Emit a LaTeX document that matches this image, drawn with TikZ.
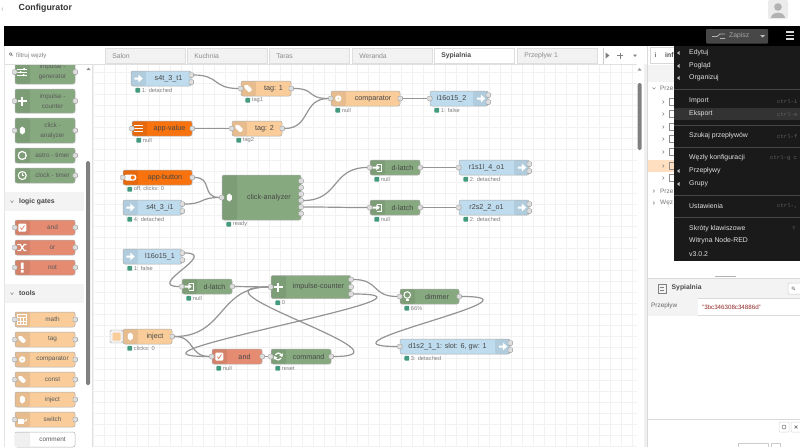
\documentclass[tikz,border=0pt]{standalone}
\usepackage{fontspec}
\setmainfont{Liberation Sans}
\setmonofont{Liberation Mono}
\usetikzlibrary{positioning}
\definecolor{blueflow}{HTML}{BEDCEE}
\definecolor{orangeflow}{HTML}{F9CC9A}
\definecolor{appflow}{HTML}{F8720E}
\definecolor{greenflow}{HTML}{87A980}
\definecolor{redflow}{HTML}{E58B72}
\definecolor{greyline}{HTML}{999999}
\definecolor{paneltint}{HTML}{F3F3F3}
\definecolor{menuback}{HTML}{1A1A1A}
\definecolor{statusgreen}{HTML}{439A7E}
\newcommand{\fs}[1]{\fontsize{#1}{#1}\selectfont}
\tikzset{
    flowbox/.style={draw=greyline!80, line width=.5pt, rounded corners=2pt, inner sep=0pt},
    flowtext/.style={font=\fs{7.2}, text=black!72, inner sep=0pt, align=center},
    flowport/.style={draw=greyline, fill=black!13, line width=.4pt, rounded corners=1pt, minimum size=4.6pt, inner sep=0pt},
    statusdot/.style={fill=statusgreen, rounded corners=.6pt, minimum size=4.6pt, inner sep=0pt},
    statustext/.style={font=\fs{5.7}, text=black!50, inner sep=0pt},
    wire/.style={draw=black!42, line width=1.2pt},
    gridline/.style={draw=black!5, line width=.35pt},
    tabbox/.style={draw=black!13, fill=black!5, line width=.5pt, minimum width=80pt, minimum height=15.5pt, text width=66pt, inner xsep=7pt, inner ysep=0pt, font=\fs{6.8}, text=black!45, anchor=west},
    palettehead/.style={font=\bfseries\fs{6.8}, text=black!72, inner sep=0pt, anchor=west},
    menutext/.style={font=\fs{6.9}, text=white!88!black, inner sep=0pt, anchor=west},
    menukey/.style={font=\ttfamily\fs{5.6}, text=black!62, inner sep=0pt, anchor=west},
    treetext/.style={font=\fs{6.4}, text=black!55, inner sep=0pt, anchor=west},
    arrowicon/.pic={\fill[white] (-4,-1) -- (0,-1) -- (0,-4) -- (4.5,0) -- (0,4) -- (0,1) -- (-4,1) -- cycle;},
    tagicon/.pic={\fill[white, rounded corners=.8pt] (-4,-3.5) -- (-.5,-3.5) -- (4,1) -- (1,4) -- (-4,-.8) -- cycle;},
    ringicon/.pic={\fill[white] (0,0) circle (3.2); \fill[orangeflow] (0,0) circle (1);},
    valueicon/.pic={\foreach \j in {-3,0,3}{\draw[white, line width=1.5pt] (-5,\j) -- (4,\j);}},
    toggleicon/.pic={\fill[white, rounded corners=2.5pt] (-6,-3) rectangle (6,3); \fill[appflow] (2.5,0) circle (2);},
    clickicon/.pic={\fill[white] (0,-4) -- (2.5,-2) -- (2.5,2) -- (0,4) -- (-2.5,2) -- (-2.5,-2) -- cycle;},
    latchicon/.pic={\draw[white, line width=1pt] (0,-3.5) -- (4,-3.5) -- (4,3.5) -- (0,3.5); \fill[white] (-5,-1) -- (-1,-1) -- (-1,-3) -- (2.5,0) -- (-1,3) -- (-1,1) -- (-5,1) -- cycle;},
    plusicon/.pic={\draw[white, line width=2pt] (-4.5,0) -- (4.5,0) (0,-4.5) -- (0,4.5);},
    checkicon/.pic={\fill[white, rounded corners=1pt] (-4,-4) rectangle (4,4); \draw[redflow, line width=.8pt] (-2,0) -- (-.5,2) -- (2.2,-2);},
    refreshicon/.pic={\draw[white, line width=1.2pt] (-3.5,0) arc (180:30:3.5) (3.5,0) arc (0:-150:3.5); \fill[white] (4.6,-3.2) -- (4.4,.2) -- (1,-.8) -- cycle; \fill[white] (-4.6,3.2) -- (-4.4,-.2) -- (-1,.8) -- cycle;},
    bulbicon/.pic={\draw[white, line width=1pt] (0,-1.5) circle (3.3); \fill[white] (-1.5,2) rectangle (1.5,4.5);},
    slidericon/.pic={\foreach \j in {-3,0,3}{\draw[white, line width=.9pt] (-5,\j) -- (5,\j);} \fill[white] (1,-4) rectangle (2.5,-2) (-2.5,-1) rectangle (-1,1) (.5,2) rectangle (2,4);},
    astroicon/.pic={\draw[white, line width=1.2pt] (0,0) circle (4);},
    clockicon/.pic={\draw[white, line width=1.1pt] (0,0) circle (4); \draw[white, line width=.8pt] (0,-2.5) -- (0,0) -- (2,0);},
    shuffleicon/.pic={\draw[white, line width=1.2pt] (-5,-3) -- (-2,-3) -- (2,3) -- (4,3) (-5,3) -- (-2,3) -- (2,-3) -- (4,-3);},
    notaicon/.pic={\fill[white] (-1.3,-5) rectangle (1.3,1.5) (-1.3,2.7) rectangle (1.3,5);},
    mathicon/.pic={\draw[white, line width=.7pt] (-4.5,-5) rectangle (4.5,5) (-4.5,-2) -- (4.5,-2) (-4.5,1.5) -- (4.5,1.5) (-1.5,-2) -- (-1.5,5) (1.5,-2) -- (1.5,5);},
    lockicon/.pic={\fill[white] (-4.5,-.5) rectangle (2,4.5); \draw[white, line width=1pt] (0,-.5) arc (180:0:2.2);},
    blankicon/.pic={\fill[black!6] (-7,-7) rectangle (7,7);},
    treerow/.pic={\draw[black!45, line width=.4pt] (-3,-3.5) rectangle (3,3.5);}
}
\newcommand{\flownode}[8]{
    \node[flowbox, fill=#6, minimum width=#4pt, minimum height=#5pt, path picture={\fill[black, opacity=.07] (path picture bounding box.north west) rectangle ([xshift=15pt]path picture bounding box.south west);}] (#1) at (#2,#3) {};
    \pic at ([xshift=7.5pt]#1.west) {#8};
    \node[flowtext] (#1-label) at ([xshift=7.5pt]#1.center) {#7};
}
\newcommand{\outnode}[8]{
    \node[flowbox, fill=#6, minimum width=#4pt, minimum height=#5pt, path picture={\fill[black, opacity=.07] (path picture bounding box.north east) rectangle ([xshift=-15pt]path picture bounding box.south east);}] (#1) at (#2,#3) {};
    \pic at ([xshift=-7.5pt]#1.east) {#8};
    \node[flowtext] (#1-label) at ([xshift=-7.5pt]#1.center) {#7};
}
\newcommand{\inport}[1]{\node[flowport] (#1-in) at (#1.west) {};}
\newcommand{\outport}[1]{\node[flowport] (#1-out) at (#1.east) {};}
\newcommand{\twoports}[1]{
    \node[flowport] (#1-out1) at ([yshift=3.5pt]#1.east) {};
    \node[flowport] (#1-out2) at ([yshift=-3.5pt]#1.east) {};
}
\newcommand{\status}[2]{
    \node[statusdot] (#1-dot) at ([shift={(7,4)}]#1.south west) {};
    \node[statustext, right=1.5pt of #1-dot] (#1-status) {#2};
}
\begin{document}
\begin{tikzpicture}[x=1pt,y=-1pt]
    \useasboundingbox (0,0) rectangle (800,447);
    \fill[white] (0,0) rectangle (800,447);

    \foreach \i in {93,104,...,643}
    {
        \draw[gridline] (\i,64) -- (\i,447);
    }
    \foreach \i in {72,83,...,447}
    {
        \draw[gridline] (93,\i) -- (643,\i);
    }

    \flownode{t1}{161}{78.5}{60}{15}{blueflow}{s4t\_3\_t1}{arrowicon}
    \twoports{t1}
    \status{t1}{1: detached}
    \flownode{tagone}{266}{88.5}{50}{15}{orangeflow}{tag: 1}{tagicon}
    \inport{tagone} \outport{tagone}
    \status{tagone}{tag1}
    \flownode{compare}{365.5}{98.5}{69}{15}{orangeflow}{comparator}{ringicon}
    \inport{compare} \outport{compare}
    \status{compare}{null}
    \outnode{otwo}{459}{98.5}{58}{15}{blueflow}{i16o15\_2}{arrowicon}
    \inport{otwo} \twoports{otwo}
    \status{otwo}{1: false}
    \flownode{appvalue}{162}{128.5}{60}{15}{appflow}{app-value}{valueicon}
    \inport{appvalue} \outport{appvalue}
    \status{appvalue}{null}
    \flownode{tagtwo}{257}{128.5}{50}{15}{orangeflow}{tag: 2}{tagicon}
    \inport{tagtwo} \outport{tagtwo}
    \status{tagtwo}{tag2}
    \flownode{appbutton}{157.5}{177.5}{69}{15}{appflow}{app-button}{toggleicon}
    \inport{appbutton} \outport{appbutton}
    \status{appbutton}{off, clicks: 0}
    \flownode{ione}{152.5}{207.5}{59}{15}{blueflow}{s4t\_3\_i1}{arrowicon}
    \twoports{ione}
    \status{ione}{4: detached}
    \flownode{click}{261.5}{197.5}{79}{45}{greenflow}{click-analyzer}{clickicon}
    \inport{click}
    \foreach \j/\y in {1/181,2/187.5,3/194,4/200.5,5/207,6/213.5}
    {
        \node[flowport] (click-out\j) at (301,\y) {};
    }
    \status{click}{ready}
    \flownode{latcha}{395}{167.5}{50}{15}{greenflow}{d-latch}{latchicon}
    \inport{latcha} \outport{latcha}
    \status{latcha}{null}
    \flownode{latchb}{395}{207.5}{50}{15}{greenflow}{d-latch}{latchicon}
    \inport{latchb} \outport{latchb}
    \status{latchb}{null}
    \outnode{oone}{494}{167.5}{70}{15}{blueflow}{r1s1l\_4\_o1}{arrowicon}
    \inport{oone} \twoports{oone}
    \status{oone}{2: detached}
    \outnode{otwob}{494}{207.5}{70}{15}{blueflow}{r2s2\_2\_o1}{arrowicon}
    \inport{otwob} \twoports{otwob}
    \status{otwob}{2: detached}
    \flownode{lone}{152.5}{256.5}{59}{15}{blueflow}{l16o15\_1}{arrowicon}
    \twoports{lone}
    \status{lone}{1: false}
    \flownode{latchc}{207}{286.5}{50}{15}{greenflow}{d-latch}{latchicon}
    \inport{latchc} \outport{latchc}
    \status{latchc}{null}
    \flownode{counter}{311}{287}{80}{23}{greenflow}{impulse-counter}{plusicon}
    \inport{counter}
    \foreach \j/\y in {1/279.5,2/287,3/294}
    {
        \node[flowport] (counter-out\j) at (351,\y) {};
    }
    \status{counter}{0}
    \flownode{inject}{147.5}{336.5}{49}{15}{orangeflow}{inject}{clickicon}
    \outport{inject}
    \node[draw=black!35, fill=black!5, rounded corners=1.5pt, minimum width=13pt, minimum height=13pt, inner sep=0pt] (injectbutton) at (116.5,336.5) {};
    \node[fill=orangeflow, rounded corners=1pt, minimum size=8pt, inner sep=0pt] (injectface) at (injectbutton) {};
    \status{inject}{clicks: 0}
    \flownode{gate}{237}{356.5}{50}{15}{redflow}{and}{checkicon}
    \inport{gate} \outport{gate}
    \status{gate}{null}
    \flownode{command}{301}{356.5}{60}{15}{greenflow}{command}{refreshicon}
    \inport{command} \outport{command}
    \status{command}{reset}
    \flownode{dimmer}{429.5}{296.5}{59}{15}{greenflow}{dimmer}{bulbicon}
    \inport{dimmer} \outport{dimmer}
    \status{dimmer}{66\%}
    \outnode{done}{455}{346.5}{110}{15}{blueflow}{d1s2\_1\_1: slot: 6, gw: 1}{arrowicon}
    \inport{done} \twoports{done}
    \status{done}{3: detached}

    \foreach \a/\b/\c in {t1-out1/tagone-in/26,tagone-out/compare-in/22,tagtwo-out/compare-in/26,compare-out/otwo-in/14,appvalue-out/tagtwo-in/18,appbutton-out/click-in/18,ione-out1/click-in/20,click-out4/latcha-in/36,click-out5/latchb-in/30,latcha-out/oone-in/18,latchb-out/otwob-in/18,lone-out1/latchc-in/35,latchc-out/counter-in/16,inject-out/counter-in/50,inject-out/gate-in/20,gate-out/command-in/4,counter-out1/dimmer-in/26,counter-out3/gate-in/120,command-out/counter-in/90,dimmer-out/done-in/94}
    {
        \draw[wire] (\a.east) .. controls +(\c,0) and +(-\c,0) .. (\b.west);
    }

    \fill[white] (0,26) rectangle (92.5,447);
    \draw[black!12, line width=.5pt] (92.5,46) -- (92.5,447);
    \draw[black!10, line width=.5pt] (4.5,46) -- (4.5,447);
    \fill[paneltint] (4.5,192) rectangle (84,211);
    \fill[paneltint] (4.5,284) rectangle (84,303);
    \node[palettehead] (logichead) at (19,202) {logic gates};
    \node[palettehead] (toolshead) at (19,293.5) {tools};
    \draw[black!50, line width=.5pt] (10.5,200.5) -- (12,202.5) -- (13.5,200.5);
    \draw[black!50, line width=.5pt] (10.5,292.5) -- (12,294.5) -- (13.5,292.5);
    \begin{scope}[flowtext/.append style={font=\fontsize{6.4}{10}\selectfont, text=black!65}]
        \flownode{palgen}{45}{72}{60}{24}{greenflow}{impulse -\\generator}{slidericon}
        \inport{palgen} \outport{palgen}
        \flownode{palcount}{45}{101}{60}{24}{greenflow}{impulse -\\counter}{plusicon}
        \inport{palcount} \outport{palcount}
        \flownode{palclick}{45}{130.5}{60}{25}{greenflow}{click -\\analyzer}{clickicon}
        \inport{palclick} \outport{palclick}
        \flownode{palastro}{45}{155.5}{60}{15}{greenflow}{astro - timer}{astroicon}
        \outport{palastro}
        \flownode{palclock}{45}{175.5}{60}{15}{greenflow}{clock - timer}{clockicon}
        \outport{palclock}
        \flownode{paland}{45}{227.5}{60}{15}{redflow}{and}{checkicon}
        \inport{paland} \outport{paland}
        \flownode{palor}{45}{247.5}{60}{15}{redflow}{or}{shuffleicon}
        \inport{palor} \outport{palor}
        \flownode{palnot}{45}{267.5}{60}{15}{redflow}{not}{notaicon}
        \inport{palnot} \outport{palnot}
        \flownode{palmath}{45}{319.5}{60}{15}{orangeflow}{math}{mathicon}
        \inport{palmath} \outport{palmath}
        \flownode{paltag}{45}{339.5}{60}{15}{orangeflow}{tag}{tagicon}
        \inport{paltag} \outport{paltag}
        \flownode{palcompare}{45}{359.5}{60}{15}{orangeflow}{comparator}{ringicon}
        \inport{palcompare} \outport{palcompare}
        \flownode{palconst}{45}{379.5}{60}{15}{orangeflow}{const}{tagicon}
        \inport{palconst} \outport{palconst}
        \flownode{palinject}{45}{399.5}{60}{15}{orangeflow}{inject}{clickicon}
        \outport{palinject}
        \flownode{palswitch}{45}{419.5}{60}{15}{orangeflow}{switch}{lockicon}
        \inport{palswitch} \outport{palswitch}
        \flownode{palcomment}{45}{439.5}{60}{15}{white}{comment}{blankicon}
    \end{scope}
    \fill[black!50, rounded corners=1.5pt] (86,161) rectangle (90,385);
    \fill[black!45] (86.5,70) -- (88.5,67.5) -- (90.5,70) -- cycle;

    \fill[white] (0,0) rectangle (800,26);
    \fill[white] (4.5,46) rectangle (92.5,64);
    \draw[black!12, line width=.5pt] (4.5,64) -- (92.5,64);
    \fill[white] (93,47) rectangle (643,64);
    \draw[black!12, line width=.5pt] (93,64) -- (643,64);
    \fill[black] (4,26) rectangle (800,46);
    \node[font=\bfseries\fs{8.8}, text=black!80, inner sep=0pt, anchor=west] (title) at (18.5,8.7) {Configurator};
    \draw[black!25, line width=.5pt] (3,7.5) -- (1.8,9) -- (3,10.5);
    \fill[black!8, rounded corners=2pt] (768,0) rectangle (788,19);
    \fill[black!30] (778,7) circle (3.8);
    \fill[black!30] (771,18) .. controls (771,11) and (785,11) .. (785,18) -- cycle;
    \draw[black!55, line width=.5pt] (10.7,54) circle (1.4) (11.7,55) -- (12.8,56.2);
    \node[font=\fs{6.2}, text=black!50, inner sep=0pt, anchor=west] (filter) at (16,55.5) {filtruj węzły};

    \foreach \t/\x in {Salon/105,Kuchnia/187,Taras/269,Weranda/352}
    {
        \node[tabbox] (tab\x) at (\x,55.7) {\t};
    }
    \node[tabbox, fill=white, font=\bfseries\fs{6.8}, text=black!70] (tabactive) at (434,55.7) {Sypialnia};
    \node[tabbox, minimum width=78pt] (tablast) at (517,55.7) {Przepływ 1};
    \draw[black!20, line width=.5pt] (603,48) -- (603,64);
    \fill[black!50] (605.5,52.5) -- (609.5,55.5) -- (605.5,58.5) -- cycle;
    \draw[black!50, line width=.9pt] (617,55.5) -- (623,55.5) (620,52.5) -- (620,58.5);
    \fill[black!50] (633,54.5) -- (637,54.5) -- (635,57) -- cycle;
    \fill[black!6] (640,64) rectangle (648,447);
    \fill[white] (637,64) rectangle (644,447);
    \fill[black!50, rounded corners=1.5pt] (637.5,83) rectangle (641.5,150);
    \fill[black!40] (637.5,70.5) -- (639.5,68) -- (641.5,70.5) -- cycle;

    \fill[white] (648,46) rectangle (800,447);
    \draw[black!15, line width=.5pt] (647.5,46) -- (647.5,447);
    \node[flowbox, draw=black!15, fill=white, rounded corners=0pt, minimum width=26pt, minimum height=16pt] (infotab) at (663,55.5) {};
    \node[font=\bfseries\fs{6.4}, text=black!60, inner sep=0pt] (infoi) at (655.5,55.5) {i};
    \node[font=\bfseries\fs{6.8}, text=black!70, inner sep=0pt, anchor=west] (infotext) at (665,55.5) {inf};
    \fill[paneltint] (648,65) rectangle (800,82);
    \fill[orange!25] (648,160) rectangle (800,172);
    \foreach \y in {102,114,127,139,152,166,178}
    {
        \draw[black!45, line width=.4pt] (662.5,\y-1.5) -- (664,\y) -- (662.5,\y+1.5);
        \pic at (672,\y) {treerow};
    }
    \draw[black!45, line width=.4pt] (652.5,87.5) -- (654,89) -- (655.5,87.5);
    \draw[black!45, line width=.4pt] (653,189.5) -- (654.5,191) -- (653,192.5);
    \draw[black!45, line width=.4pt] (653,201.5) -- (654.5,203) -- (653,204.5);
    \node[treetext] (treea) at (660,88.5) {Prze};
    \node[treetext] (treeb) at (660,191) {Prze};
    \node[treetext] (treec) at (660,203) {Węz};

    \fill[paneltint] (648,278) rectangle (800,298);
    \draw[black!30, line width=.8pt] (715,276) -- (736,276);
    \draw[black!15, line width=.5pt] (648,278) -- (800,278) (648,298) -- (800,298) (648,315.5) -- (800,315.5) (648,419) -- (800,419);
    \fill[paneltint] (648,298) rectangle (698,315.5);
    \draw[black!50, line width=.5pt] (658,284) rectangle (666,293) (660,287) -- (664,287) (660,290) -- (664,290);
    \node[font=\bfseries\fs{6.8}, text=black!70, inner sep=0pt, anchor=west] (infohead) at (671.5,288) {Sypialnia};
    \node[font=\fs{6.4}, text=black!60, inner sep=0pt, anchor=west] (infokey) at (651,306) {Przepływ};
    \node[font=\fs{6.2}, text=red!50!black!85, inner sep=0pt, anchor=west] (infovalue) at (702,307) {"3bc346308c34886d"};
    \draw[black!20, fill=white, line width=.5pt, rounded corners=1pt] (788,283) rectangle (803,294);
    \draw[black!55, line width=.4pt] (793,288) circle (1.3) (794,289) -- (795,290);
    \draw[black!15, line width=.5pt, rounded corners=1pt] (779,422) rectangle (789,432) (791,422) rectangle (801,432);
    \draw[black!60, line width=.5pt] (784,427) circle (2);
    \draw[black!60, line width=.6pt] (794.5,425.5) -- (797.5,428.5) (797.5,425.5) -- (794.5,428.5);
    \draw[black!20, line width=.5pt] (738,447) -- (738,443) -- (768,443) -- (768,447) (771,447) -- (771,443) -- (780,443) -- (780,447);

    \fill[black!72, rounded corners=1pt] (706,29) rectangle (768,43.5);
    \node[font=\fs{6.8}, text=black!35, inner sep=0pt, anchor=west] (deploy) at (729,36) {Zapisz};
    \draw[black!30, line width=.8pt] (712,36.5) -- (717,36.5) (720,34) -- (725,34) (720,38.5) -- (725,38.5) (717,36.5) -- (720,34);
    \fill[black!25] (760,35) -- (765,35) -- (762.5,37.5) -- cycle;
    \foreach \y in {32,35.5,39}
    {
        \draw[white!85!black, line width=1.5pt] (786,\y) -- (794,\y);
    }

    \fill[menuback] (674,46) rectangle (800,261);
    \fill[black!80] (674,108) rectangle (800,120);
    \foreach \y in {89,125,147,195,217}
    {
        \draw[black!72, line width=.6pt] (674,\y) -- (800,\y);
    }
    \foreach \y in {53,66,78,171,184}
    {
        \fill[white!75!black] (677,\y) -- (679.5,\y-2) -- (679.5,\y+2) -- cycle;
    }
    \foreach \t/\y in {Edytuj/53,Pogląd/66,Organizuj/78,Import/101,Eksport/114,Szukaj przepływów/136,Węzły konfiguracji/158,Przepływy/171,Grupy/184,Ustawienia/206,Skróty klawiszowe/229,Witryna Node-RED/241,v3.0.2/254}
    {
        \node[menutext] (menu\y) at (689,\y) {\t};
    }
    \foreach \t/\x/\y in {ctrl-i/777/101,ctrl-e/777/114,ctrl-f/777/136,ctrl-g c/770/158,{ctrl-,}/777/206,?/792/229}
    {
        \node[menukey] (key\y) at (\x,\y) {\t};
    }
\end{tikzpicture}
\end{document}
